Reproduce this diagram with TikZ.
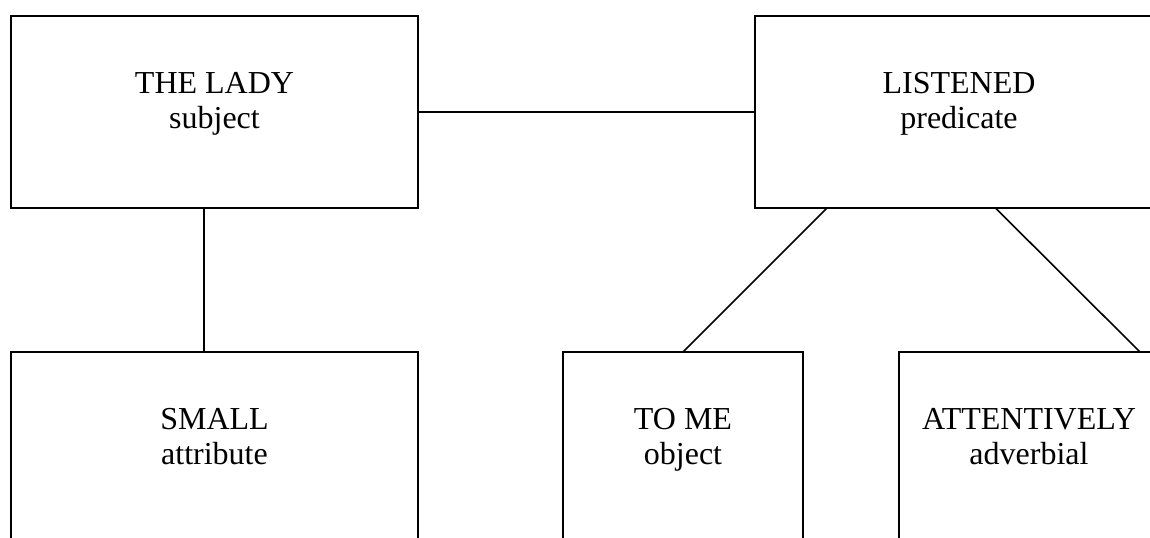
\documentclass[tikz,border=0pt]{standalone}
\usepackage{fontspec}
\setmainfont{Liberation Serif}
\usetikzlibrary{calc}

\begin{document}
\begin{tikzpicture}[x=0.75pt,y=-0.75pt,
    box/.style={draw=black,line width=1.2pt,inner sep=0pt,outer sep=0pt,
                minimum height=144pt},
    link/.style={draw=black,line width=1.2pt},
    word/.style={anchor=base,inner sep=0pt,font=\fontsize{24}{26}\selectfont}]
  % page frame; the boxes on the right and bottom run past it
  \useasboundingbox (0,0) rectangle (1150,537);
  \clip (0,0) rectangle (1150,537);

  % sentence parts
  \node[box,minimum width=305.25pt] (subj) at (214.5,112) {};
  \node[box,minimum width=306pt]    (pred) at (959,112)   {};
  \node[box,minimum width=305.25pt] (attr) at (214.5,448) {};
  \node[box,minimum width=180pt]    (obj)  at (683,448)   {};
  \node[box,minimum width=195pt]    (adv)  at (1029,448)  {};

  % labels: word on the first line, grammatical role below
  \node[word] (subjW) at (214.5,93)  {THE LADY};
  \node[word] (subjR) at (214.5,128) {subject};
  \node[word] (predW) at (959,93)    {LISTENED};
  \node[word] (predR) at (959,128)   {predicate};
  \node[word] (attrW) at (214.5,429) {SMALL};
  \node[word] (attrR) at (214.5,464) {attribute};
  \node[word] (objW)  at (683,429)   {TO ME};
  \node[word] (objR)  at (683,464)   {object};
  \node[word] (advW)  at (1029,429)  {ATTENTIVELY};
  \node[word] (advR)  at (1029,464)  {adverbial};

  % attachment points on the box edges
  \coordinate (subjS) at (204,208);
  \coordinate (attrN) at (204,352);
  \coordinate (predSL) at (827,208);
  \coordinate (predSR) at (995.5,208);
  \coordinate (advN) at (1140,352);

  % connectors
  \draw[link] (subj.east) -- (pred.west);
  \draw[link] (subjS) -- (attrN);
  \draw[link] (predSL) -- (obj.north);
  \draw[link] (predSR) -- (advN);
\end{tikzpicture}
\end{document}
